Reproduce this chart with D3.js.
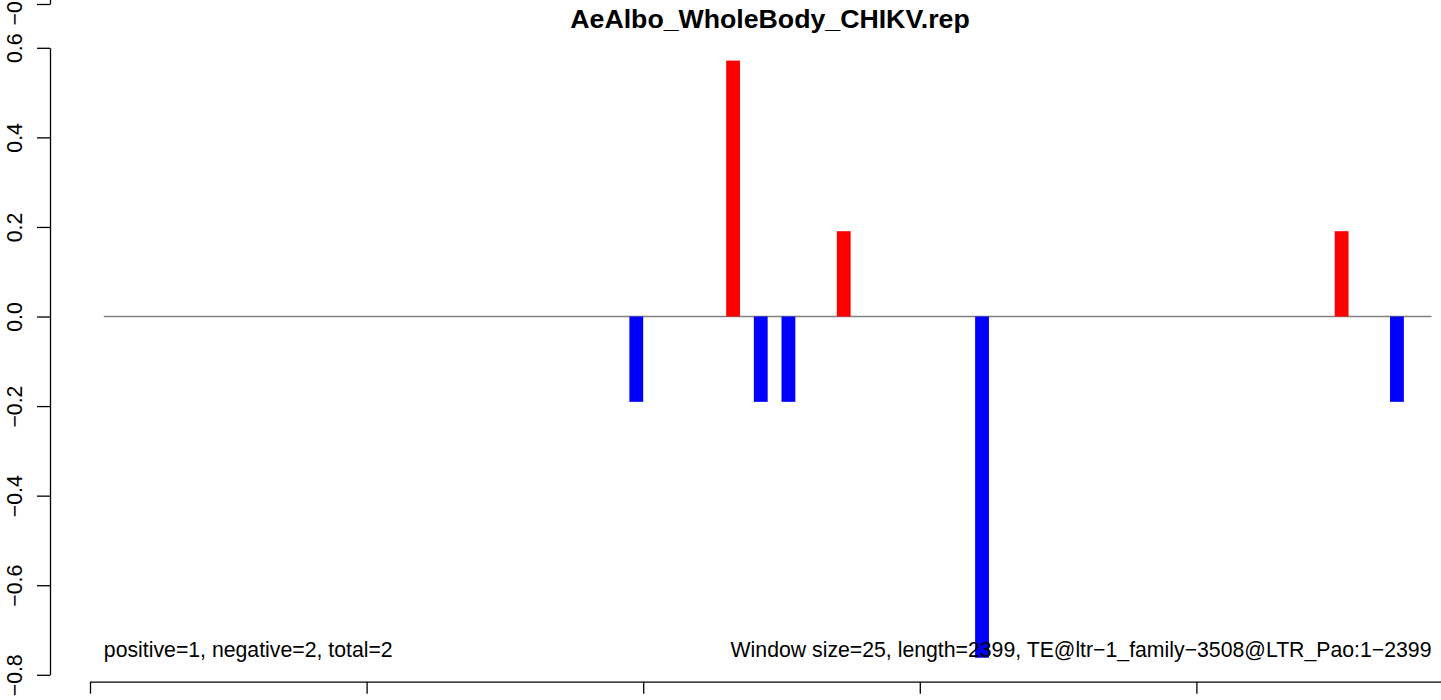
<!DOCTYPE html>
<html>
<head>
<meta charset="utf-8">
<script src="https://cdn.jsdelivr.net/npm/d3@7"></script>
<style>
  html, body { margin: 0; padding: 0; background: #fff; }
  svg { display: block; }
  text { font-family: "Liberation Sans", Arial, Helvetica, sans-serif; fill: #000; }
</style>
</head>
<body>
<svg id="chart" width="1441" height="700"></svg>
<script>
// ---- data ----
const title = "AeAlbo_WholeBody_CHIKV.rep";
const windowSize = 25;
const seqLength = 2399;
const windowStarts = [975, 1150, 1200, 1250, 1350, 1600, 2250, 2350];
const windowValues = [-0.1905, 0.5714, -0.1905, -0.1905, 0.1905, -0.7619, 0.1905, -0.1905];
const yTicks = [-0.8, -0.6, -0.4, -0.2, 0.0, 0.2, 0.4, 0.6];
const xTicks = [0, 500, 1000, 1500, 2000, 2500];
const upperPanelTicks = [-0.8];
const baselineRange = [25, 2425];
const leftNote = "positive=1, negative=2, total=2";
const rightNote = "Window size=25, length=2399, TE@ltr\u22121_family\u22123508@LTR_Pao:1\u22122399";

// ---- scales ----
const svg = d3.select("#chart");
const x = d3.scaleLinear().domain([0, 2500]).range([90, 1473]);
const y = d3.scaleLinear().domain([-0.8, 0.6]).range([674.8, 47.8]);
const yUpper = d3.scaleLinear().domain([-0.8, 0.6]).range([4, 4 - 627]);
const fmt = v => d3.format(".1f")(v).replace("-", "\u2212");

// zero line
svg.append("line")
  .attr("x1", x(baselineRange[0])).attr("x2", x(baselineRange[1]))
  .attr("y1", y(0)).attr("y2", y(0))
  .attr("stroke", "#808080").attr("stroke-width", 1.5);

// bars
svg.append("g").selectAll("rect")
  .data(windowStarts.map((s, i) => ({ s, v: windowValues[i] })))
  .join("rect")
  .attr("x", d => x(d.s))
  .attr("width", d => x(d.s + windowSize) - x(d.s))
  .attr("y", d => y(Math.max(0, d.v)))
  .attr("height", d => Math.abs(y(d.v) - y(0)))
  .attr("fill", d => d.v >= 0 ? "#ff0000" : "#0000ff");

// y axis (this panel)
const yAxis = d3.axisLeft(y).tickValues(yTicks).tickSize(13).tickSizeOuter(0).tickFormat(fmt);
const gy = svg.append("g").attr("transform", "translate(50,0)").call(yAxis);
gy.select(".domain").attr("stroke", "#000").attr("stroke-width", 1.3);
gy.selectAll(".tick line").attr("stroke", "#000").attr("stroke-width", 1.3);
gy.selectAll(".tick text")
  .attr("x", null).attr("dy", null)
  .attr("transform", "translate(-28,0) rotate(-90)")
  .attr("text-anchor", "middle")
  .style("font-size", "21.25px")
  .style("font-family", "'Liberation Sans', Arial, sans-serif");

// partial axis of panel above
const gyu = svg.append("g").attr("transform", "translate(50,0)")
  .call(d3.axisLeft(yUpper).tickValues(upperPanelTicks).tickSize(13).tickSizeOuter(0).tickFormat(fmt));
gyu.select(".domain").attr("stroke", "#000").attr("stroke-width", 1.3);
gyu.selectAll(".tick line").attr("stroke", "#000").attr("stroke-width", 1.3);
gyu.selectAll(".tick text")
  .attr("x", null).attr("dy", null)
  .attr("transform", "translate(-28,0) rotate(-90)")
  .attr("text-anchor", "middle")
  .style("font-size", "21.25px")
  .style("font-family", "'Liberation Sans', Arial, sans-serif");

// x axis
const gx = svg.append("g").attr("transform", "translate(0,681.7)")
  .call(d3.axisBottom(x).tickValues(xTicks).tickSize(12).tickSizeOuter(0).tickFormat(""));
gx.select(".domain").attr("stroke", "#000").attr("stroke-width", 1.3);
gx.selectAll(".tick line").attr("stroke", "#000").attr("stroke-width", 1.3);

// title
svg.append("text")
  .attr("x", 770).attr("y", 28)
  .attr("text-anchor", "middle")
  .style("font-weight", "bold")
  .style("font-size", "26.7px")
  .text(title);

// notes
svg.append("text")
  .attr("x", x(baselineRange[0])).attr("y", 657.3)
  .attr("text-anchor", "start")
  .style("font-size", "21.25px")
  .text(leftNote);
svg.append("text")
  .attr("x", x(baselineRange[1])).attr("y", 657.3)
  .attr("text-anchor", "end")
  .style("font-size", "21.25px")
  .text(rightNote);
</script>
</body>
</html>
